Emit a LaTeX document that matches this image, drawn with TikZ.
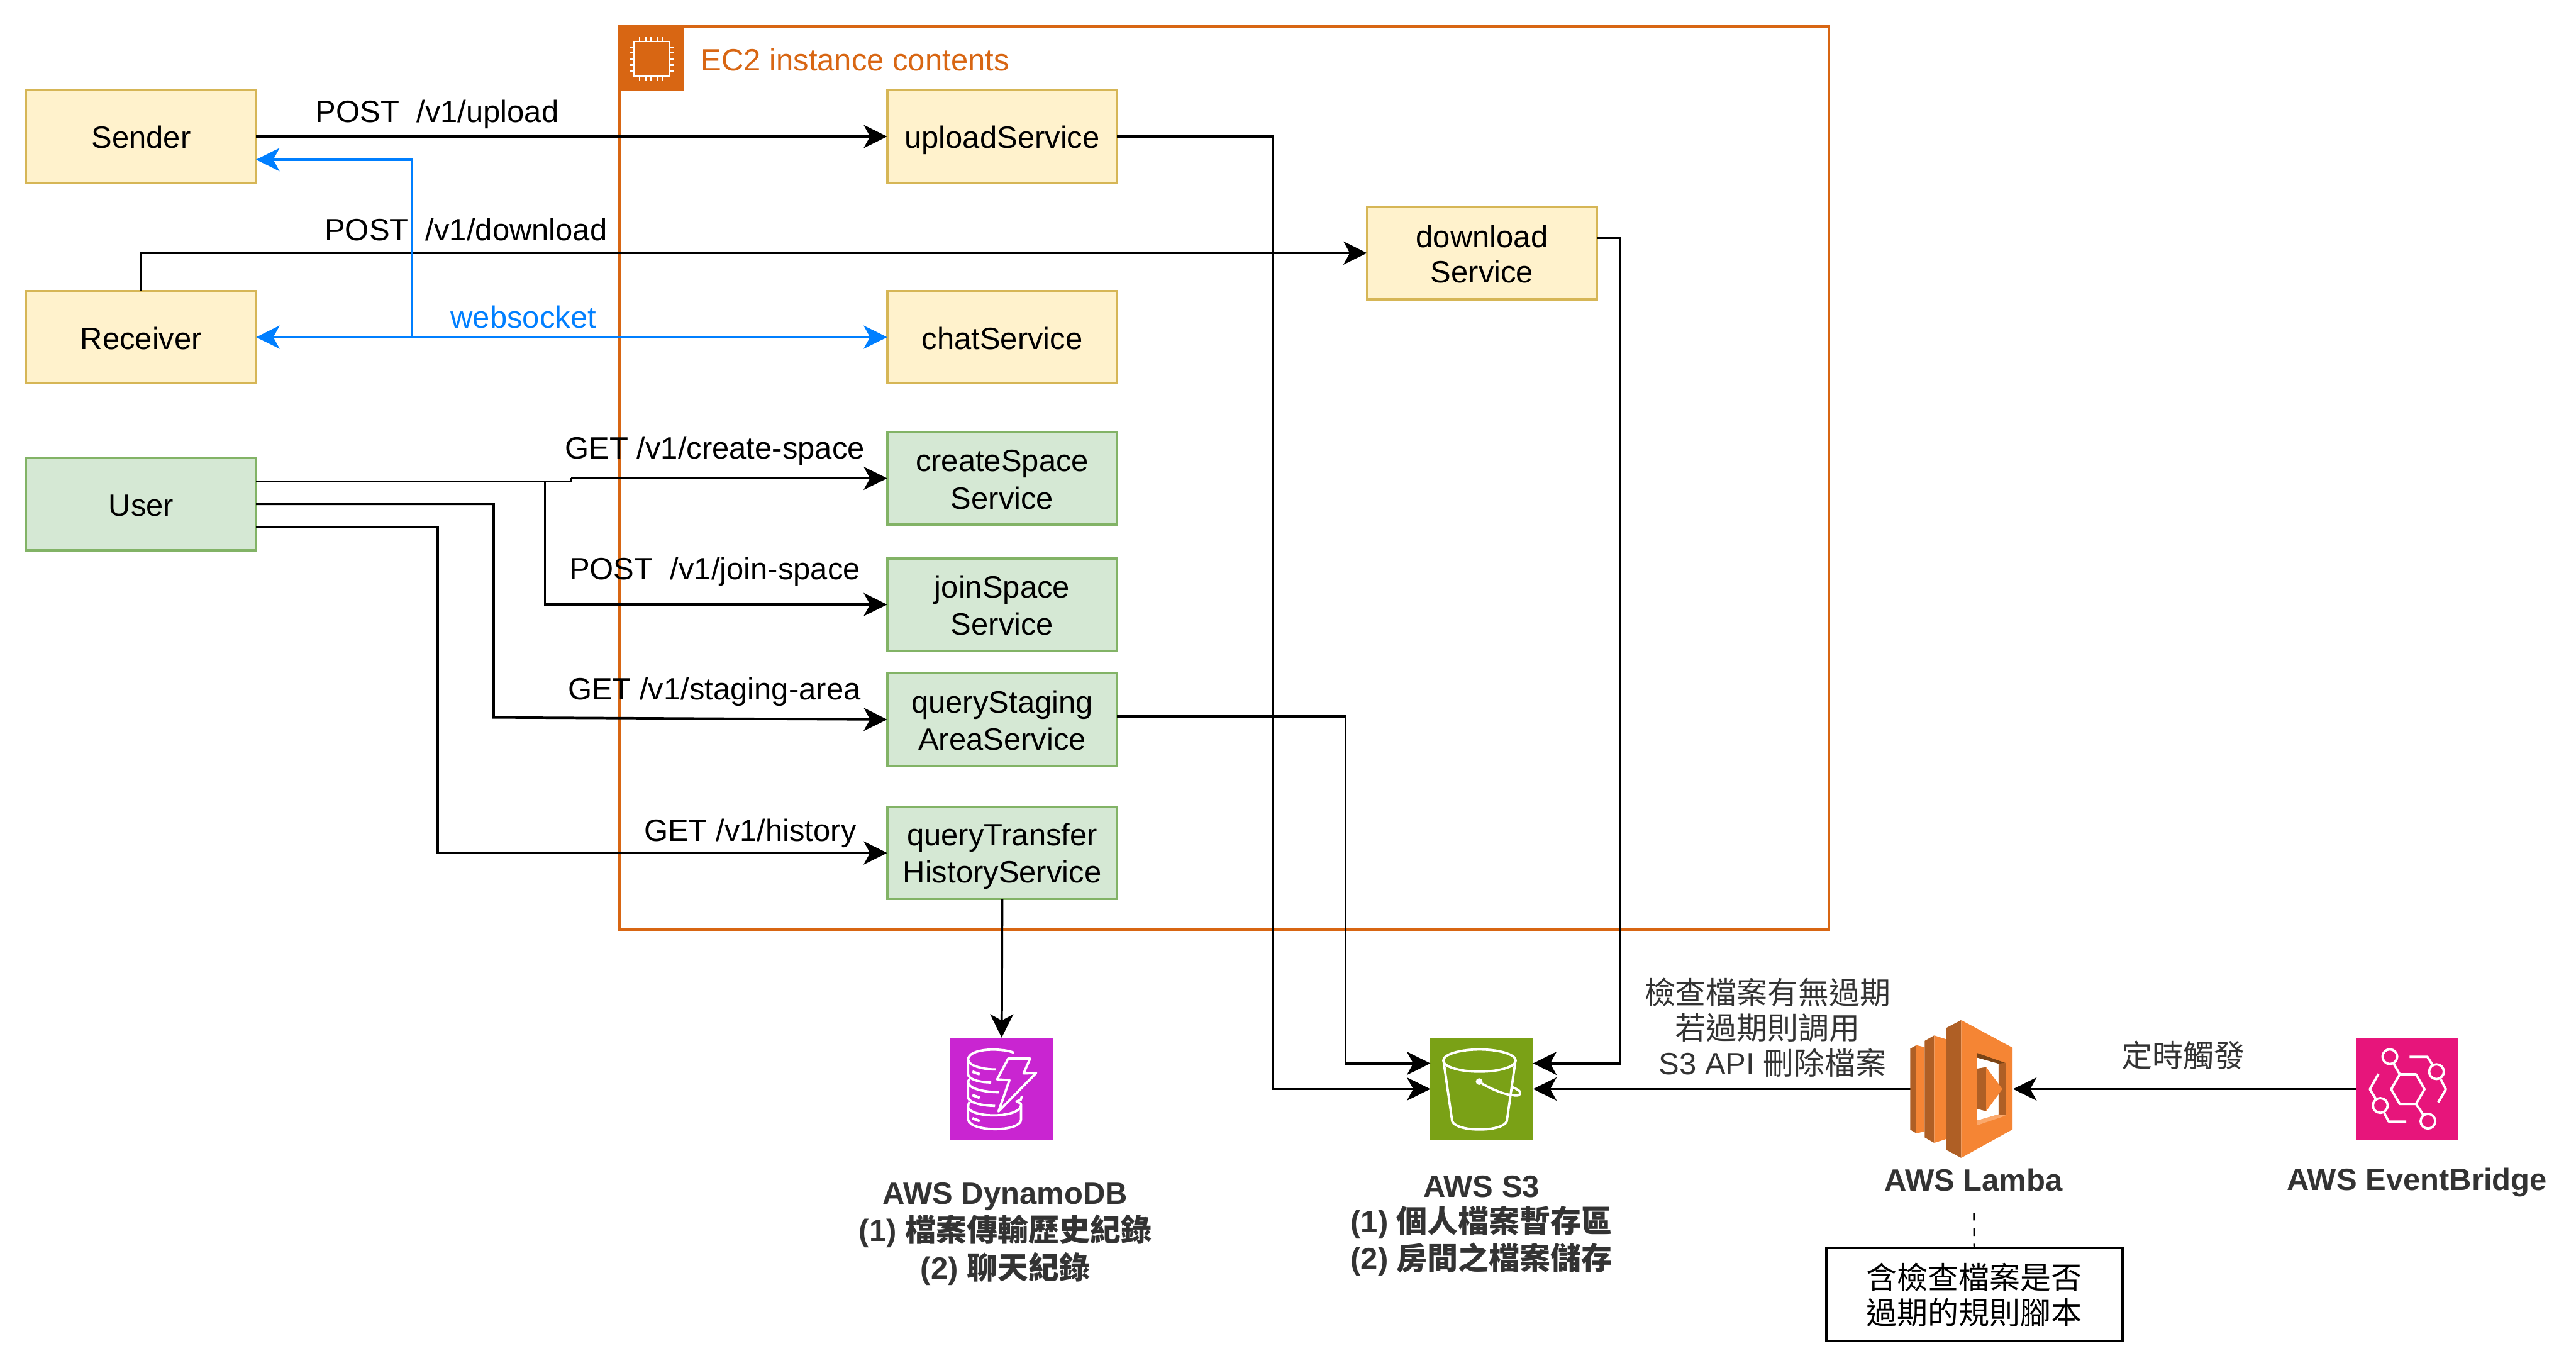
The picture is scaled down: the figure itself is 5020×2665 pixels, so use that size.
\documentclass[tikz,border=0pt]{standalone}
\usepackage{fontspec}
\setmainfont{Liberation Sans}
\newfontfamily\cjk{Noto Sans CJK TC}
\usetikzlibrary{arrows.meta}
\newcommand{\zs}{\rule[-2.9pt]{0pt}{19pt}}
\definecolor{ec2c}{HTML}{D86613}
\definecolor{yfill}{HTML}{FFF2CC}
\definecolor{ydraw}{HTML}{D6B656}
\definecolor{gfill}{HTML}{D5E8D4}
\definecolor{gdraw}{HTML}{82B366}
\definecolor{wsblue}{HTML}{007FFF}
\definecolor{lamL}{HTML}{F58534}
\definecolor{lamD}{HTML}{AF5F25}
\definecolor{lamK}{HTML}{7A4315}
\definecolor{lamH}{HTML}{FBA86B}
\definecolor{dynoc}{HTML}{C925D1}
\definecolor{s3c}{HTML}{7AA116}
\definecolor{evc}{HTML}{E7157B}
\definecolor{labc}{HTML}{333333}
\tikzset{
  basebox/.style={rectangle,inner sep=0pt,outer sep=0pt,minimum width=4.48cm,minimum height=1.8cm,line width=1.3pt,align=center,
    font=\fontsize{17.07}{19.4}\selectfont},
  ybox/.style={basebox,draw=ydraw,fill=yfill},
  gbox/.style={basebox,draw=gdraw,fill=gfill},
  iconbox/.style={rectangle,inner sep=0pt,outer sep=0pt,minimum width=2cm,minimum height=2cm},
  txt/.style={inner sep=0pt,outer sep=0pt,align=center,font=\fontsize{17.07}{19.4}\selectfont},
  boldtxt/.style={txt,text=labc,font=\fontsize{17.07}{19.4}\selectfont\bfseries},
  conn/.style={line width=1.3pt,-{Stealth[length=13pt,width=12.8pt,inset=3.5pt]}},
  plain/.style={line width=1.3pt},
  wconn/.style={conn,draw=wsblue},
  icon/.style={draw=white,line width=1.3pt,line join=round,line cap=butt}
}
\begin{document}
\begin{tikzpicture}[x=0.01cm,y=-0.01cm]
\useasboundingbox (0,0) rectangle (5020,2665);
\fill[white] (0,0) rectangle (5020,2665);

% EC2 frame
\node[rectangle,draw=ec2c,line width=1.3pt,inner sep=0pt,outer sep=0pt,minimum width=23.55cm,minimum height=17.59cm] (ec2) at (2385.5,931.5) {};
\fill[ec2c] (1206,50) rectangle (1332,177);
\draw[white,line width=0.8pt] (1236,81) rectangle (1305,148);
\foreach \p in {1246,1258,1269,1281,1292}{
  \draw[white,line width=0.8pt] (\p,72) -- (\p,81);
  \draw[white,line width=0.8pt] (\p,148) -- (\p,157);
}
\foreach \p in {92,103,115,127,138}{
  \draw[white,line width=0.8pt] (1227,\p) -- (1236,\p);
  \draw[white,line width=0.8pt] (1305,\p) -- (1314,\p);
}
\node[txt,text=ec2c,anchor=west] (ec2label) at (1366,115) {\zs EC2 instance contents};

% Boxes
\node[ybox] (sender) at (275,266) {\zs Sender};
\node[ybox] (receiver) at (275,657) {\zs Receiver};
\node[gbox] (user) at (275,982) {\zs User};
\node[ybox] (upload) at (1953,266) {\zs uploadService};
\node[ybox] (chat) at (1953,657) {\zs chatService};
\node[ybox] (download) at (2888,493) {\zs download\\\zs Service};
\node[gbox] (create) at (1953,932) {\zs createSpace\\\zs Service};
\node[gbox] (join) at (1953,1178) {\zs joinSpace\\\zs Service};
\node[gbox] (staging) at (1953,1402) {\zs queryStaging\\\zs AreaService};
\node[gbox] (transfer) at (1953,1662) {\zs queryTransfer\\\zs HistoryService};

% Icons
\node[iconbox,fill=dynoc] (dynamo) at (1952,2122) {};
\node[iconbox,fill=s3c] (s3) at (2887.5,2122) {};
\node[iconbox,fill=evc] (ebridge) at (4691,2122) {};
\node[rectangle,inner sep=0pt,outer sep=0pt,minimum width=2cm,minimum height=2.7cm] (lambda) at (3823,2122) {};

% Helper coordinates
\coordinate (u1) at (499,938);
\coordinate (u2) at (499,982);
\coordinate (u3) at (499,1027);
\coordinate (s3a) at (2787.5,2072);
\coordinate (s3b) at (2987.5,2072);
\coordinate (senderin) at (499,311);
\coordinate (stagout) at (2177,1396);
\coordinate (dlout) at (3112,464);
\coordinate (wsfork) at (803,657);

% Connectors
\draw[conn] (sender.east) -- (upload.west);
\draw[conn] (receiver.north) |- (download.west);
\draw[conn] (upload.east) -| (2481,1500) |- (s3.west);
\draw[conn] (stagout) -| (2622,1700) |- (s3a);
\draw[conn] (dlout) -| (3157,1500) |- (s3b);
\draw[conn] (lambda.west) -- (s3.east);
\draw[conn] (ebridge.west) -- (lambda.east);
\draw[conn] (transfer.south) -- (dynamo.north);
\draw[plain] (u1) -- (1113,938) -- (1113,932);
\draw[conn] (1113,932) -- (create.west);
\draw[conn] (1062,938) |- (join.west);
\draw[conn] (u2) -- (962,982) -- (962,1398) -- (staging.west);
\draw[conn] (u3) -- (853,1027) |- (transfer.west);
\draw[wconn,{Stealth[length=13pt,width=12.8pt,inset=3.5pt]}-{Stealth[length=13pt,width=12.8pt,inset=3.5pt]}] (receiver.east) -- (chat.west);
\draw[wconn] (wsfork) |- (senderin);

% Edge labels
\node[txt] (l1) at (852,216) {\zs POST\ \ /v1/upload};
\node[txt] (l2) at (908,446) {\zs POST\ \ /v1/download};
\node[txt,text=wsblue] (l3) at (1020,616) {\zs websocket};
\node[txt] (l4) at (1393,872) {\zs GET /v1/create-space};
\node[txt] (l5) at (1393,1107) {\zs POST\ \ /v1/join-space};
\node[txt] (l6) at (1392,1341) {\zs GET /v1/staging-area};
\node[txt] (l7) at (1462,1617) {\zs GET /v1/history};
\node[txt,text=labc] (l8) at (3445,2002) {\zs{\cjk 檢查檔案有無過期}\\\zs{\cjk 若過期則調用}\\\zs\hspace*{5.4pt}S3 API {\cjk 刪除檔案}};
\node[txt,text=labc] (l9) at (4255,2056) {\zs{\cjk 定時觸發}};

% Service labels
\node[boldtxt] (dyn) at (1959,2397) {\zs AWS DynamoDB\\\zs(1) {\cjk\bfseries 檔案傳輸歷史紀錄}\\\zs(2) {\cjk\bfseries 聊天紀錄}};
\node[boldtxt] (s3t) at (2887,2381) {\zs AWS S3\\\zs(1) {\cjk\bfseries 個人檔案暫存區}\\\zs(2) {\cjk\bfseries 房間之檔案儲存}};
\node[boldtxt] (lamt) at (3846,2298) {\zs AWS Lamba};
\node[boldtxt] (evt) at (4710,2298) {\zs AWS EventBridge};

% Note
\node[basebox,draw=black,fill=white,minimum width=5.77cm,minimum height=1.81cm] (note) at (3847.5,2522.5) {\zs{\cjk 含檢查檔案是否}\\\zs{\cjk 過期的規則腳本}};
\coordinate (dashtop) at (3847,2363);
\draw[line width=1.1pt,dash pattern=on 4.3pt off 4.3pt] (dashtop) -- (note.north);

% Lambda icon
\begin{scope}[shift={(3700,1970)},x=0.003333cm,y=-0.003333cm]
  \fill[lamD] (68,220) -- (104,200) -- (104,716) -- (68,695) -- cycle;
  \fill[lamL] (104,200) -- (152,212) -- (152,705) -- (104,716) -- cycle;
  \fill[lamD] (152,175) -- (208,143) -- (208,772) -- (152,740) -- cycle;
  \fill[lamL] (208,143) -- (277,165) -- (277,750) -- (208,772) -- cycle;
  \fill[lamD] (277,100) -- (366,53) -- (366,860) -- (277,812) -- cycle;
  \fill[lamL] (366,53) -- (667,215) -- (667,693) -- (366,860) -- cycle;
  \fill[white] (457,272) -- (585,308) -- (585,605) -- (457,642) -- cycle;
  \fill[lamK] (457,245) -- (628,305) -- (585,308) -- (457,272) -- cycle;
  \fill[lamD] (585,308) -- (628,305) -- (628,612) -- (585,605) -- cycle;
  \fill[lamH] (457,642) -- (585,605) -- (628,612) -- (457,670) -- cycle;
  \fill[lamD] (457,338) -- (512,328) -- (512,587) -- (457,572) -- cycle;
  \fill[lamL] (512,328) -- (607,457) -- (512,587) -- cycle;
\end{scope}

% DynamoDB icon
\begin{scope}[shift={(1840,2010)},x=0.003333cm,y=-0.003333cm]
  \draw[icon] (408,124) .. controls (340,95) and (140,95) .. (140,165) .. controls (140,200) and (230,222) .. (300,222);
  \draw[icon] (140,165) -- (140,250) .. controls (140,280) and (210,298) .. (275,298);
  \draw[icon] (148,278) .. controls (143,285) and (140,290) .. (140,300) .. controls (150,340) and (250,355) .. (320,355);
  \draw[icon] (140,300) -- (140,385) .. controls (140,415) and (220,435) .. (298,435);
  \draw[icon] (148,412) .. controls (143,420) and (140,430) .. (140,445) .. controls (160,505) and (430,510) .. (450,435);
  \draw[icon] (140,445) -- (140,515) .. controls (150,590) and (450,590) .. (450,515) -- (450,425) -- (425,405);
  \draw[icon] (455,378) -- (448,400) -- (418,412);
  \draw[icon,line width=1.5pt] (165,235) -- (208,250);
  \draw[icon,line width=1.5pt] (165,372) -- (208,388);
  \draw[icon,line width=1.5pt] (165,508) -- (208,524);
  \fill[dynoc] (375,158) -- (503,158) -- (465,245) -- (538,243) -- (318,468) -- (382,285) -- (310,280) -- cycle;
  \draw[icon] (375,158) -- (503,158) -- (465,245) -- (538,243) -- (318,468) -- (382,285) -- (310,280) -- cycle;
\end{scope}

% S3 icon
\begin{scope}[shift={(2775,2010)},x=0.003333cm,y=-0.003333cm]
  \draw[icon] (325,170) ellipse [x radius=212,y radius=65];
  \draw[icon] (115,175) -- (165,525) .. controls (190,590) and (460,590) .. (485,525) -- (535,175);
  \fill[white] (323,293) circle [radius=20];
  \draw[icon] (340,305) .. controls (400,340) and (480,372) .. (520,372) .. controls (565,385) and (575,355) .. (550,342) .. controls (540,335) and (530,330) .. (515,325);
\end{scope}

% EventBridge icon
\begin{scope}[shift={(4580,2010)},x=0.003333cm,y=-0.003333cm]
  \draw[icon] (290,250) -- (385,250) -- (435,338) -- (385,424) -- (290,424) -- (240,338) -- cycle;
  \draw[icon] (232,147) circle [radius=43];
  \draw[icon] (505,235) circle [radius=43];
  \draw[icon] (176,433) circle [radius=43];
  \draw[icon] (455,525) circle [radius=43];
  \draw[icon] (255,190) -- (290,250);
  \draw[icon] (385,424) -- (430,490);
  \draw[icon] (347,148) -- (452,148) -- (482,195);
  \draw[icon] (530,280) -- (560,338) -- (515,415);
  \draw[icon] (165,248) -- (115,338) -- (150,395);
  \draw[icon] (200,478) -- (225,527) -- (328,527);
\end{scope}
\end{tikzpicture}
\end{document}
